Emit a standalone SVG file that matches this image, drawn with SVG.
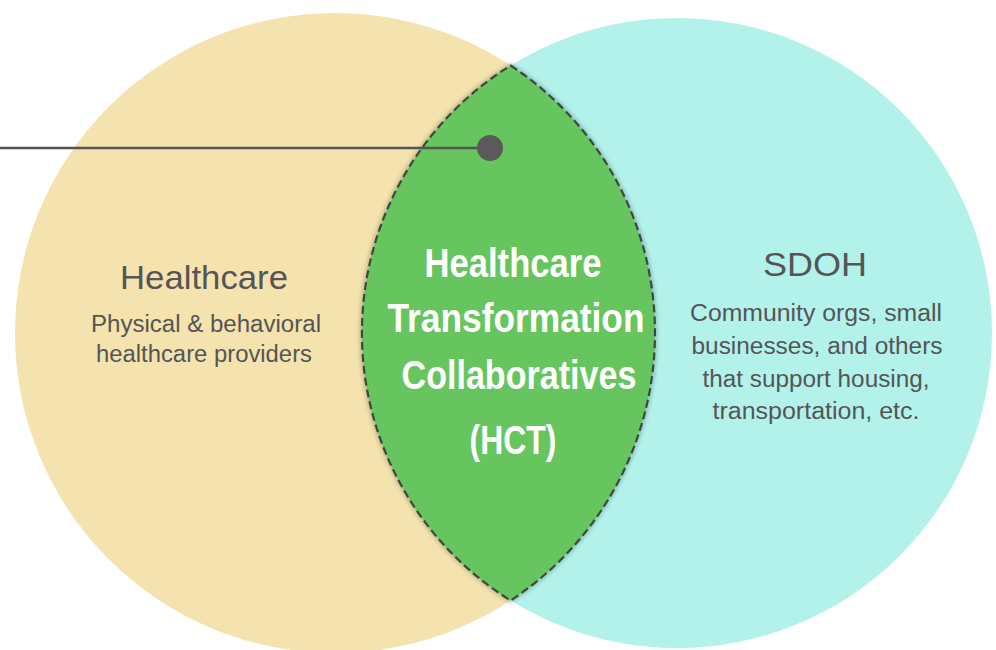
<svg xmlns="http://www.w3.org/2000/svg" width="996" height="650" viewBox="0 0 996 650">
  <style>
    .title { font-family: "Liberation Sans", Arial, sans-serif; font-size: 33px; fill: #555555; text-anchor: middle; }
    .body { font-family: "Liberation Sans", Arial, sans-serif; font-size: 23px; fill: #555555; text-anchor: middle; }
    .hct { font-family: "Liberation Sans", Arial, sans-serif; font-weight: bold; font-size: 41px; fill: #ffffff; text-anchor: middle; }
  </style>
  <defs>
    <filter id="soft" x="-10%" y="-10%" width="120%" height="120%">
      <feGaussianBlur stdDeviation="2"/>
    </filter>
  </defs>
  <rect width="996" height="650" fill="#ffffff"/>

  <g id="healthcare">
    <circle cx="335" cy="333" r="320" fill="#F4E3AE"/>
    <text class="title" x="204" y="289" textLength="168" lengthAdjust="spacingAndGlyphs">Healthcare</text>
    <text class="body" x="206" y="332" textLength="230" lengthAdjust="spacingAndGlyphs">Physical &amp; behavioral</text>
    <text class="body" x="204" y="362" textLength="216" lengthAdjust="spacingAndGlyphs">healthcare providers</text>
  </g>

  <g id="sdoh">
    <circle cx="677" cy="333" r="315" fill="#B3F2EB"/>
    <text class="title" x="815" y="276" textLength="104" lengthAdjust="spacingAndGlyphs">SDOH</text>
    <text class="body" x="816" y="321" textLength="252" lengthAdjust="spacingAndGlyphs">Community orgs, small</text>
    <text class="body" x="817" y="354" textLength="251" lengthAdjust="spacingAndGlyphs">businesses, and others</text>
    <text class="body" x="816" y="387" textLength="227" lengthAdjust="spacingAndGlyphs">that support housing,</text>
    <text class="body" x="816" y="419" textLength="207" lengthAdjust="spacingAndGlyphs">transportation, etc.</text>
  </g>

  <g id="hct">
    <path d="M 510.6 65.5 A 320 320 0 0 1 510.6 600.5 A 315 315 0 0 1 510.6 65.5 Z" fill="none" stroke="#000000" stroke-opacity="0.25" stroke-width="4" filter="url(#soft)"/>
    <path d="M 510.6 65.5 A 320 320 0 0 1 510.6 600.5 A 315 315 0 0 1 510.6 65.5 Z" fill="#66C55F" stroke="#3b4a3b" stroke-width="2.2" stroke-dasharray="8 4"/>
    <text class="hct" x="513" y="277" textLength="177" lengthAdjust="spacingAndGlyphs">Healthcare</text>
    <text class="hct" x="516" y="332" textLength="257" lengthAdjust="spacingAndGlyphs">Transformation</text>
    <text class="hct" x="519" y="389" textLength="235" lengthAdjust="spacingAndGlyphs">Collaboratives</text>
    <text class="hct" x="513" y="454" textLength="87" lengthAdjust="spacingAndGlyphs">(HCT)</text>
  </g>

  <g id="connectors">
    <line x1="0" y1="148" x2="490" y2="148" stroke="#555555" stroke-width="2.5"/>
    <circle cx="490" cy="148" r="13" fill="#5a5a5a"/>
  </g>
</svg>
